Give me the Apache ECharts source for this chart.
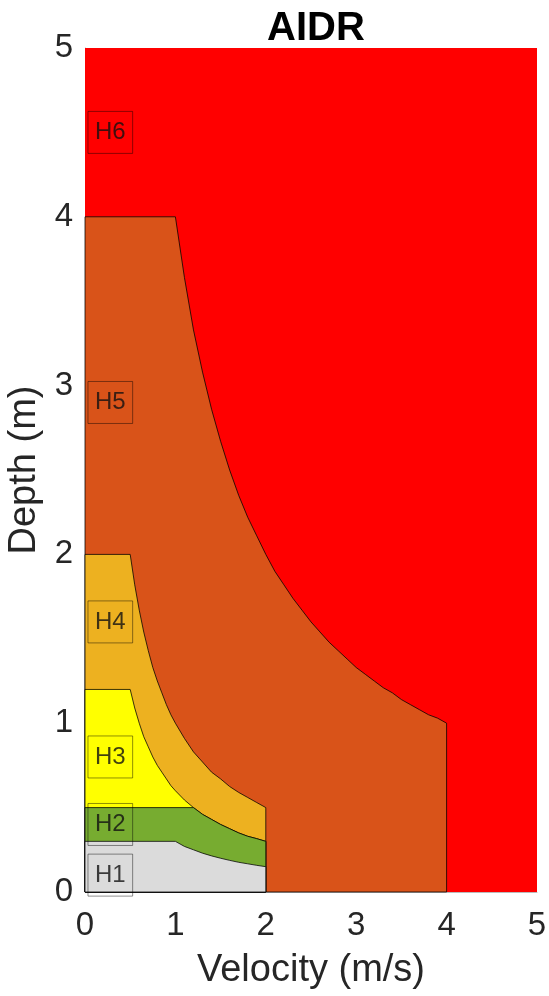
<!DOCTYPE html>
<html>
<head>
<meta charset="utf-8">
<script src="https://cdn.jsdelivr.net/npm/echarts@6/dist/echarts.min.js"></script>
<style>
  html, body { margin: 0; padding: 0; background: #fff; }
  #chart { width: 549px; height: 996px; }
</style>
</head>
<body>
<div id="chart"></div>
<script>
// Hazard classes, drawn from most to least severe so lower classes sit on top
const hazardNames = ['H6', 'H5', 'H4', 'H3', 'H2', 'H1'];
const hazardColors = ['#FF0000', '#D95319', '#EDB120', '#FFFF00', '#77AC30', '#DBDBDB'];

// Upper boundary of each class as [velocity (m/s), depth (m)] vertices
const boundaryH6 = [[0, 5], [5, 5], [5, 0]];
const boundaryH5 = [[0, 4], [1, 4], [1.1, 3.64], [1.2, 3.33], [1.3, 3.08], [1.4, 2.86], [1.5, 2.67],
  [1.6, 2.5], [1.7, 2.35], [1.8, 2.22], [1.9, 2.11], [2, 2], [2.1, 1.9], [2.2, 1.82], [2.3, 1.74],
  [2.4, 1.67], [2.5, 1.6], [2.6, 1.54], [2.7, 1.48], [2.8, 1.43], [2.9, 1.38], [3, 1.33], [3.1, 1.29],
  [3.2, 1.25], [3.3, 1.21], [3.4, 1.18], [3.5, 1.14], [3.6, 1.11], [3.7, 1.08], [3.8, 1.05],
  [3.9, 1.03], [4, 1], [4, 0]];
const boundaryH4 = [[0, 2], [0.5, 2], [0.55, 1.82], [0.6, 1.67], [0.65, 1.54], [0.7, 1.43], [0.75, 1.33],
  [0.8, 1.25], [0.85, 1.18], [0.9, 1.11], [0.95, 1.05], [1, 1], [1.1, 0.91], [1.2, 0.83], [1.3, 0.77],
  [1.4, 0.71], [1.5, 0.67], [1.6, 0.625], [1.7, 0.59], [1.8, 0.56], [1.9, 0.53], [2, 0.5], [2, 0]];
const boundaryH3 = [[0, 1.2], [0.5, 1.2], [0.55, 1.09], [0.6, 1.0], [0.65, 0.92], [0.7, 0.86], [0.75, 0.8],
  [0.8, 0.75], [0.85, 0.71], [0.9, 0.67], [0.95, 0.63], [1, 0.6], [1.1, 0.545], [1.2, 0.5], [1.3, 0.46],
  [1.4, 0.43], [1.5, 0.4], [1.6, 0.375], [1.7, 0.35], [1.8, 0.33], [1.9, 0.316], [2, 0.3], [2, 0]];
const boundaryH2 = [[0, 0.5], [1.2, 0.5], [1.3, 0.46], [1.4, 0.43], [1.5, 0.4], [1.6, 0.375], [1.7, 0.35],
  [1.8, 0.33], [1.9, 0.316], [2, 0.3], [2, 0]];
const boundaryH1 = [[0, 0.3], [1, 0.3], [1.1, 0.27], [1.2, 0.25], [1.3, 0.23], [1.4, 0.214], [1.5, 0.2],
  [1.6, 0.1875], [1.7, 0.176], [1.8, 0.167], [1.9, 0.158], [2, 0.15], [2, 0]];
const boundaries = [boundaryH6, boundaryH5, boundaryH4, boundaryH3, boundaryH2, boundaryH1];

// Where each class tag sits [velocity, depth]
const tagPositions = [[0.28, 4.5], [0.28, 2.9], [0.28, 1.6], [0.28, 0.8], [0.28, 0.4], [0.28, 0.1]];

// Axis ticks
const xTicks = [0, 1, 2, 3, 4, 5];
const yTicks = [0, 1, 2, 3, 4, 5];

const font = '"Liberation Sans", Arial, Helvetica, sans-serif';
const textColor = '#262626';

const chart = echarts.init(document.getElementById('chart'));

const regionSeries = boundaries.map((pts, i) => ({
  type: 'custom',
  name: hazardNames[i],
  coordinateSystem: 'cartesian2d',
  silent: true,
  z: 2 + i,
  data: [0],
  renderItem: function (params, api) {
    // close the polygon down to the origin
    const verts = [[0, 0]].concat(pts).map(p => api.coord(p));
    return {
      type: 'polygon',
      shape: { points: verts },
      style: {
        fill: hazardColors[i],
        stroke: i === 0 ? 'none' : 'rgba(0,0,0,0.85)',
        lineWidth: 0.9
      }
    };
  }
}));

const tagSeries = {
  type: 'scatter',
  z: 20,
  silent: true,
  symbolSize: 0,
  data: tagPositions.map((p, i) => ({ value: p, name: hazardNames[i] })),
  label: {
    show: true,
    position: 'inside',
    formatter: '{b}',
    fontFamily: font,
    fontSize: 24,
    color: '#111',
    lineHeight: 24,
    padding: [9, 7, 9, 7],
    borderColor: 'rgba(0,0,0,0.55)',
    borderWidth: 1
  }
};

chart.setOption({
  animation: false,
  title: {
    text: 'AIDR',
    left: 311,
    textAlign: 'center',
    top: 4,
    textStyle: { fontFamily: font, fontSize: 40, fontWeight: 'bold', color: '#000' }
  },
  grid: { left: 85, right: 12, top: 48, bottom: 104, containLabel: false, outerBoundsMode: 'none' },
  xAxis: {
    type: 'value',
    min: 0, max: 5, interval: 1,
    name: 'Velocity (m/s)',
    nameLocation: 'middle',
    nameGap: 60,
    nameTextStyle: { fontFamily: font, fontSize: 38, color: textColor },
    axisLine: { show: true, lineStyle: { color: '#bbb' } },
    axisTick: { show: false },
    splitLine: { show: false },
    axisLabel: {
      fontFamily: font, fontSize: 33, color: textColor, margin: 17,
      formatter: v => (xTicks.indexOf(v) >= 0 ? String(v) : '')
    }
  },
  yAxis: {
    type: 'value',
    min: 0, max: 5, interval: 1,
    name: 'Depth (m)',
    nameLocation: 'middle',
    nameGap: 33,
    nameRotate: 90,
    nameTextStyle: { fontFamily: font, fontSize: 38, color: textColor },
    axisLine: { show: true, lineStyle: { color: '#bbb' } },
    axisTick: { show: false },
    splitLine: { show: false },
    axisLabel: {
      fontFamily: font, fontSize: 33, color: textColor, margin: 12,
      formatter: v => (yTicks.indexOf(v) >= 0 ? String(v) : '')
    }
  },
  series: regionSeries.concat([tagSeries])
});
</script>
</body>
</html>
